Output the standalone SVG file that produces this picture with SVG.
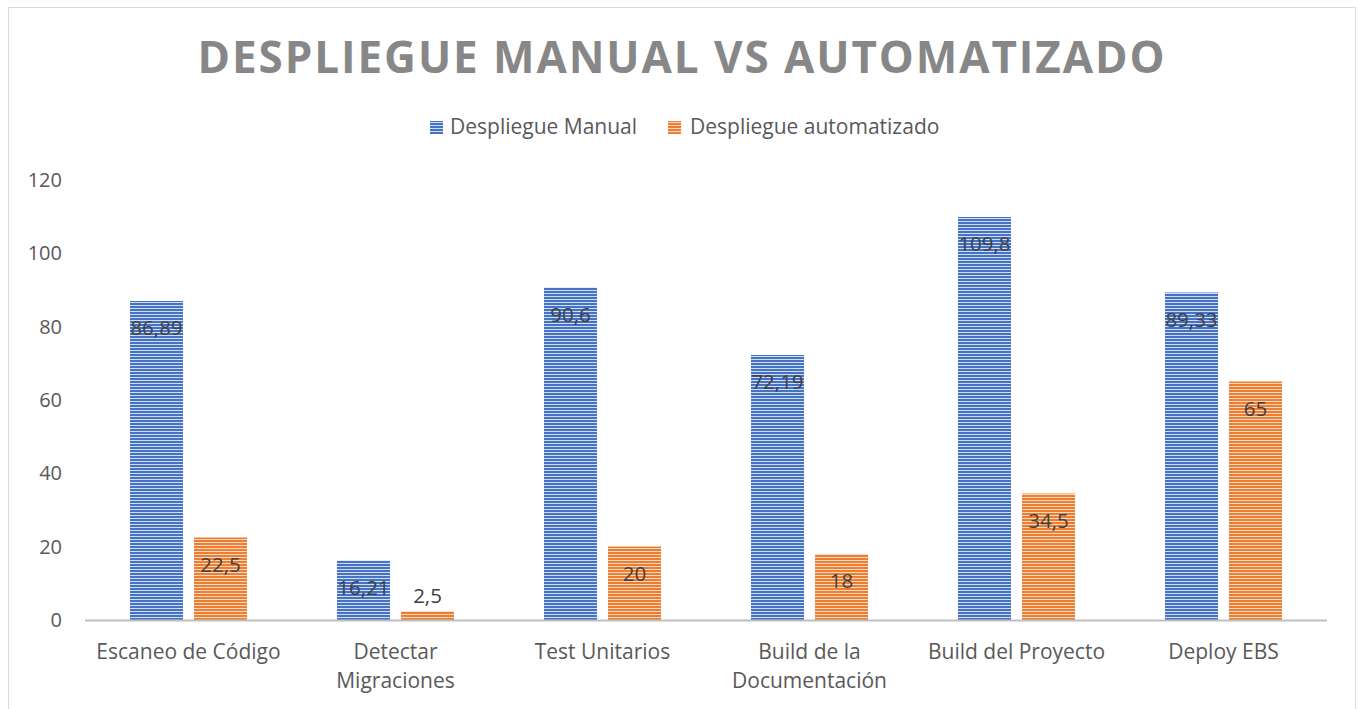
<svg xmlns="http://www.w3.org/2000/svg" width="1359" height="709" viewBox="0 0 1359 709">
  <style>
    .title { font-family: "Open Sans", "Liberation Sans", sans-serif; font-weight: 700; font-size: 44px; fill: #878787; }
    .lbl { font-family: "Open Sans", "Liberation Sans", sans-serif; font-size: 21px; fill: #595959; }
    .tick { font-family: "Open Sans", "Liberation Sans", sans-serif; font-size: 20px; fill: #595959; text-anchor: end; }
    .cat { font-family: "Open Sans", "Liberation Sans", sans-serif; font-size: 21px; fill: #595959; text-anchor: middle; }
    .val { font-family: "Open Sans", "Liberation Sans", sans-serif; font-size: 20.5px; fill: #404040; text-anchor: middle; }
    .manual { fill: url(#stripeBlue); }
    .auto { fill: url(#stripeOrange); }
  </style>
  <defs>
    <pattern id="stripeBlue" patternUnits="userSpaceOnUse" x="0" y="0" width="8" height="3">
      <rect width="8" height="3" fill="#d2ddf2"/>
      <rect width="8" height="2" fill="#4472c4"/>
    </pattern>
    <pattern id="stripeOrange" patternUnits="userSpaceOnUse" x="0" y="0" width="8" height="3">
      <rect width="8" height="3" fill="#fbd9c1"/>
      <rect width="8" height="2" fill="#ed7d31"/>
    </pattern>
  </defs>

  <!-- chart frame -->
  <rect x="0" y="0" width="1359" height="709" fill="#ffffff"/>
  <rect x="8.5" y="7.5" width="1347" height="720" fill="#ffffff" stroke="#d9d9d9" stroke-width="1"/>

  <!-- title -->
  <text class="title" x="681" y="73" text-anchor="middle" textLength="967" lengthAdjust="spacing">DESPLIEGUE MANUAL VS AUTOMATIZADO</text>

  <!-- legend -->
  <g id="legend">
    <rect class="manual" x="430" y="121" width="13" height="13"/>
    <text class="lbl" x="450" y="134">Despliegue Manual</text>
    <rect class="auto" x="668" y="121" width="13" height="13"/>
    <text class="lbl" x="690" y="134">Despliegue automatizado</text>
  </g>

  <!-- value axis -->
  <g id="value-axis">
    <text class="tick" x="62" y="187">120</text>
    <text class="tick" x="62" y="260">100</text>
    <text class="tick" x="62" y="334">80</text>
    <text class="tick" x="62" y="407">60</text>
    <text class="tick" x="62" y="480">40</text>
    <text class="tick" x="62" y="554">20</text>
    <text class="tick" x="62" y="627">0</text>
  </g>

  <!-- bars -->
  <g id="escaneo">
    <rect class="manual" x="130" y="301" width="53" height="319"/>
    <rect class="auto" x="194" y="537.5" width="53" height="82.5"/>
    <text class="val" x="156.5" y="335">86,89</text>
    <text class="val" x="220.5" y="572">22,5</text>
  </g>
  <g id="detectar">
    <rect class="manual" x="337" y="560.5" width="53" height="59.5"/>
    <rect class="auto" x="401" y="611" width="53" height="9"/>
    <text class="val" x="363.5" y="595">16,21</text>
    <text class="val" x="427.5" y="603">2,5</text>
  </g>
  <g id="test">
    <rect class="manual" x="544" y="287.5" width="53" height="332.5"/>
    <rect class="auto" x="608" y="546.5" width="53" height="73.5"/>
    <text class="val" x="570.5" y="322">90,6</text>
    <text class="val" x="634.5" y="581">20</text>
  </g>
  <g id="build-doc">
    <rect class="manual" x="751" y="355" width="53" height="265"/>
    <rect class="auto" x="815" y="554" width="53" height="66"/>
    <text class="val" x="777.5" y="389">72,19</text>
    <text class="val" x="841.5" y="588">18</text>
  </g>
  <g id="build-proyecto">
    <rect class="manual" x="958" y="217" width="53" height="403"/>
    <rect class="auto" x="1022" y="493.5" width="53" height="126.5"/>
    <text class="val" x="984.5" y="251">109,8</text>
    <text class="val" x="1048.5" y="528">34,5</text>
  </g>
  <g id="deploy">
    <rect class="manual" x="1165" y="292.5" width="53" height="327.5"/>
    <rect class="auto" x="1229" y="381.5" width="53" height="238.5"/>
    <text class="val" x="1191.5" y="327">89,33</text>
    <text class="val" x="1255.5" y="416">65</text>
  </g>

  <!-- category axis -->
  <g id="category-axis">
    <line x1="85" y1="620.5" x2="1327" y2="620.5" stroke="#bfbfbf" stroke-width="2"/>
    <text class="cat" x="188.5" y="659">Escaneo de Código</text>
    <text class="cat" x="395.5" y="659">Detectar</text>
    <text class="cat" x="395.5" y="688">Migraciones</text>
    <text class="cat" x="602.5" y="659">Test Unitarios</text>
    <text class="cat" x="809.5" y="659">Build de la</text>
    <text class="cat" x="809.5" y="688">Documentación</text>
    <text class="cat" x="1016.5" y="659">Build del Proyecto</text>
    <text class="cat" x="1223.5" y="659">Deploy EBS</text>
  </g>
</svg>
